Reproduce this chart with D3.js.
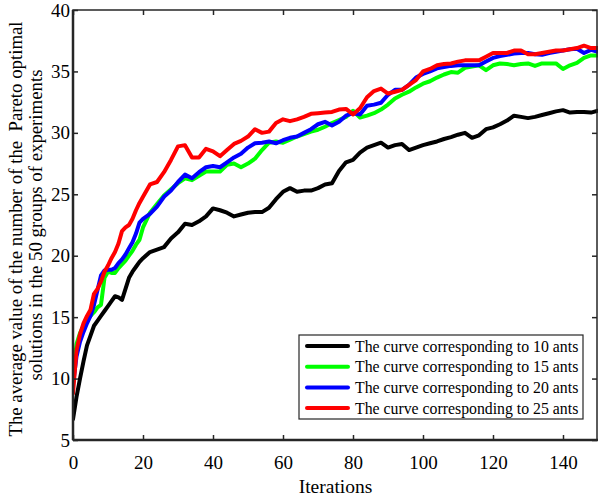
<!DOCTYPE html>
<html><head><meta charset="utf-8">
<script src="https://cdn.jsdelivr.net/npm/d3@7"></script>
<style>body{margin:0;background:#fff}svg{display:block}text{font-family:"Liberation Serif","Times New Roman",serif;fill:#000}</style>
</head><body><svg id="c" width="598" height="499"></svg>
<script>
const iterations = [0,1,2,3,4,5,6,7,8,9,10,11,12,13,14,15,16,17,18,19,20,22,24,26,28,30,32,34,36,38,40,42,44,46,48,50,52,54,56,58,60,62,64,66,68,70,72,74,76,78,80,82,84,86,88,90,92,94,96,98,100,102,104,106,108,110,112,114,116,118,120,122,124,126,128,130,132,134,136,138,140,142,144,146,148,150];
const ants10 = [6.7,8.5,10.0,11.4,12.7,13.5,14.3,14.7,15.1,15.5,15.9,16.3,16.7,16.6,16.4,17.3,18.2,18.7,19.1,19.5,19.8,20.3,20.5,20.7,21.4,21.9,22.6,22.5,22.8,23.2,23.85,23.7,23.5,23.2,23.35,23.5,23.55,23.55,23.9,24.6,25.2,25.5,25.2,25.3,25.3,25.5,25.8,25.9,26.9,27.6,27.8,28.4,28.8,29.0,29.2,28.8,29.0,29.1,28.6,28.8,29.0,29.15,29.3,29.5,29.65,29.85,30.0,29.6,29.8,30.3,30.45,30.7,31.0,31.4,31.3,31.2,31.3,31.45,31.6,31.75,31.85,31.65,31.7,31.7,31.65,31.8];
const ants15 = [10.2,12.8,13.7,14.3,14.8,15.1,15.4,15.8,16.0,18.2,18.7,18.6,18.6,19.0,19.3,19.6,20.0,20.4,20.9,21.3,22.3,23.5,24.2,24.9,25.4,25.9,26.3,26.15,26.5,26.85,26.85,26.85,27.4,27.5,27.2,27.5,27.9,28.6,29.2,29.3,29.2,29.45,29.7,29.9,30.1,30.25,30.5,30.8,31.05,31.3,31.8,31.25,31.4,31.6,31.9,32.3,32.8,33.1,33.35,33.7,34.0,34.2,34.5,34.75,34.95,34.9,35.3,35.4,35.5,35.1,35.5,35.65,35.6,35.5,35.6,35.65,35.45,35.65,35.65,35.65,35.2,35.5,35.7,36.1,36.3,36.3];
const ants20 = [9.5,11.8,13.0,13.8,14.5,15.1,16.0,17.2,18.4,18.8,18.85,18.85,19.0,19.4,19.7,20.1,20.6,21.1,21.8,22.7,23.0,23.4,24.0,24.8,25.3,26.0,26.6,26.3,26.8,27.2,27.3,27.2,27.6,28.0,28.3,28.8,29.15,29.2,29.3,29.15,29.4,29.6,29.7,30.0,30.3,30.7,30.9,30.6,30.9,31.4,31.6,31.5,32.2,32.3,32.45,33.1,33.5,33.5,33.9,34.5,34.8,35.0,35.25,35.35,35.45,35.5,35.5,35.5,35.5,35.8,36.1,36.25,36.35,36.45,36.5,36.5,36.4,36.35,36.5,36.6,36.7,36.8,36.85,36.5,36.75,36.6];
const ants25 = [8.8,12.3,13.6,14.5,15.1,15.6,16.9,17.3,17.9,18.7,19.2,19.8,20.3,21.0,22.0,22.3,22.5,23.0,23.7,24.3,24.8,25.8,26.0,26.8,27.8,28.9,29.0,28.0,28.0,28.7,28.5,28.1,28.6,29.1,29.35,29.7,30.3,30.0,30.1,30.8,31.1,30.95,31.1,31.3,31.55,31.6,31.65,31.7,31.9,31.95,31.5,32.0,32.9,33.4,33.6,33.2,33.35,33.5,33.9,34.3,35.0,35.2,35.5,35.6,35.65,35.8,35.9,35.9,35.9,36.2,36.5,36.5,36.5,36.7,36.7,36.4,36.4,36.5,36.6,36.7,36.7,36.8,36.9,37.1,36.9,36.9];
const seriesNames = ["The curve corresponding to 10 ants","The curve corresponding to 15 ants","The curve corresponding to 20 ants","The curve corresponding to 25 ants"];
const seriesColors = ["#000000","#00ff00","#0000ff","#ff0000"];
const xTicks = [0,20,40,60,80,100,120,140];
const yTicks = [5,10,15,20,25,30,35,40];
const xLabel = "Iterations";
const yLabel1 = "The average value of the number of the  Pareto optimal";
const yLabel2 = "solutions in the 50 groups of experiments";

const svg = d3.select("#c");
const L=73, R=598, T=10, B=440;
const x = d3.scaleLinear().domain([0,150]).range([L,R]);
const y = d3.scaleLinear().domain([5,40]).range([B,T]);
const axisCol = "#262626";

svg.append("clipPath").attr("id","cl").append("rect").attr("x",L).attr("y",T).attr("width",R-L).attr("height",B-T);

const allSeries = [ants10, ants15, ants20, ants25];
const line = d3.line().x((d,i)=>x(iterations[i])).y(d=>y(d));
const g = svg.append("g").attr("clip-path","url(#cl)");
allSeries.forEach((s,k)=>{
  g.append("path").attr("d",line(s)).attr("fill","none").attr("stroke",seriesColors[k])
   .attr("stroke-width",4).attr("stroke-linejoin","round").attr("stroke-linecap","round");
});

// axes
const fs = 19;
const ax = svg.append("g").attr("transform",`translate(0,${B})`).call(d3.axisBottom(x).tickValues(xTicks).tickSize(-5).tickPadding(16).tickFormat(d3.format("d")));
const ay = svg.append("g").attr("transform",`translate(${L},0)`).call(d3.axisLeft(y).tickValues(yTicks).tickSize(-5).tickPadding(3).tickFormat(d3.format("d")));
const axTop = svg.append("g").attr("transform",`translate(0,${T})`).call(d3.axisTop(x).tickValues(xTicks).tickSize(-5).tickFormat(""));
const ayR = svg.append("g").attr("transform",`translate(${R-1},0)`).call(d3.axisRight(y).tickValues(yTicks).tickSize(-5).tickFormat(""));
[ax,ay,axTop,ayR].forEach(a=>{
  a.select(".domain").remove();
  a.selectAll("line").attr("stroke",axisCol).attr("stroke-width",1.5);
  a.selectAll("text").style("font-family",'"Liberation Serif",serif').style("font-size",fs+"px").attr("fill","#000");
});
svg.append("rect").attr("x",L).attr("y",T).attr("width",R-L-1).attr("height",B-T).attr("fill","none").attr("stroke",axisCol).attr("stroke-width",1.5);
svg.append("line").attr("x1",L).attr("x2",L).attr("y1",T).attr("y2",B).attr("stroke",axisCol).attr("stroke-width",2.5);
svg.append("line").attr("x1",L).attr("x2",R).attr("y1",B).attr("y2",B).attr("stroke",axisCol).attr("stroke-width",2.5);

// labels
svg.append("text").attr("x",(L+R)/2).attr("y",493).attr("text-anchor","middle").style("font-size","19.5px").text(xLabel);
svg.append("text").attr("transform",`translate(22,${(T+B)/2+4}) rotate(-90)`).attr("text-anchor","middle").style("font-size","18.8px").style("white-space","pre").text(yLabel1);
svg.append("text").attr("transform",`translate(42,${(T+B)/2}) rotate(-90)`).attr("text-anchor","middle").style("font-size","18.8px").text(yLabel2);

// legend
const lg = svg.append("g");
lg.append("rect").attr("x",299).attr("y",335).attr("width",284).attr("height",84).attr("fill","#fff").attr("stroke",axisCol).attr("stroke-width",1.2);
seriesNames.forEach((n,k)=>{
  const yy = 346 + k*20.7;
  lg.append("line").attr("x1",307).attr("x2",348).attr("y1",yy).attr("y2",yy).attr("stroke",seriesColors[k]).attr("stroke-width",4).attr("stroke-linecap","round");
  lg.append("text").attr("x",355).attr("y",yy+5.5).style("font-size","15.8px").text(n);
});
</script></body></html>
